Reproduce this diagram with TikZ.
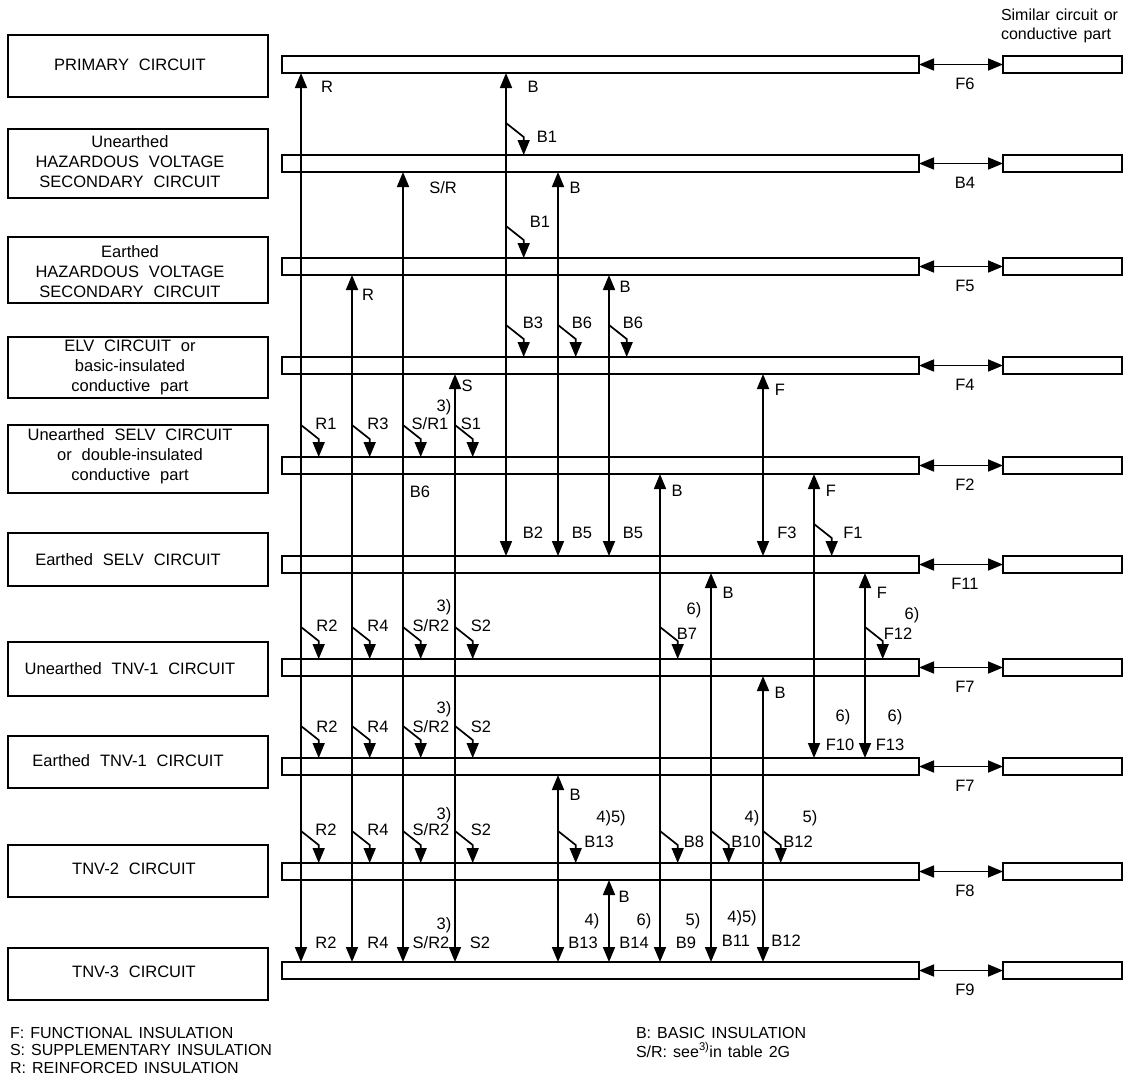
\documentclass[tikz,border=0pt]{standalone}
\usepackage{fontspec}
\newfontfamily\labfont{Liberation Sans}
\usetikzlibrary{arrows.meta,calc}
\newcommand\lblfnt{\labfont\fontsize{16.5}{20}\selectfont\spaceskip=0.6em\relax}
\newcommand\legfnt{\labfont\fontsize{16}{18}\selectfont\spaceskip=0.38em\relax}
\newcommand\brn[2]{\draw[tipend] ($(#1 |- #2.north)+(0,-32)$) -- ++(17.7,14) -- ++(0,18);}
\newcommand\lb[4]{\node[lbl] (#1) at (#2,#3) {#4};}
\begin{document}
\begin{tikzpicture}[x=1pt,y=-1pt,
  every node/.style={inner sep=0pt, outer sep=0pt},
  frame/.style={draw, line width=1.7pt},
  lbl/.style={font=\lblfnt},
  leg/.style={font=\legfnt, anchor=west},
  tipend/.style={line width=1.7pt, -{Triangle[length=15pt,width=12pt]}},
  tipboth/.style={line width=1.7pt, {Triangle[length=15pt,width=12pt]}-{Triangle[length=15pt,width=12pt]}},
]
\useasboundingbox (0,0) rectangle (1134,1082);

% left boxes
\foreach \i/\a/\b in {1/35/97,2/129/198,3/237/303,4/337/398,5/425/493,6/533/586,7/642/696,8/736/788,9/845/897,10/948/1000}
  \node[frame, anchor=north west, minimum width=260pt, minimum height={\b-\a}] (L\i) at (8,\a) {};
\node[lbl] (t1) at (130,65) {PRIMARY CIRCUIT};
\node[lbl, align=center] (t2) at (130,162) {Unearthed\\HAZARDOUS VOLTAGE\\SECONDARY CIRCUIT};
\node[lbl, align=center] (t3) at (130,272) {Earthed\\HAZARDOUS VOLTAGE\\SECONDARY CIRCUIT};
\node[lbl, align=center] (t4) at (130,367) {ELV CIRCUIT or\\basic-insulated\\conductive part};
\node[lbl, align=center] (t5) at (130,456) {Unearthed SELV CIRCUIT\\or double-insulated\\conductive part};
\node[lbl] (t6) at (128,560) {Earthed SELV CIRCUIT};
\node[lbl] (t7) at (130,669) {Unearthed TNV-1 CIRCUIT};
\node[lbl] (t8) at (128,761) {Earthed TNV-1 CIRCUIT};
\node[lbl] (t9) at (134,869) {TNV-2 CIRCUIT};
\node[lbl] (t10) at (134,972) {TNV-3 CIRCUIT};

% bars, right boxes, side arrows
\foreach \i/\t/\s in {1/56/F6,2/155/B4,3/258/F5,4/357/F4,5/457/F2,6/556/F11,7/659/F7,8/758/F7,9/863/F8,10/962/F9}{
  \node[frame, anchor=north west, minimum width=637pt, minimum height=17pt] (b\i) at (282,\t) {};
  \node[frame, anchor=north west, minimum width=119pt, minimum height=17pt] (r\i) at (1003,\t) {};
  \draw[tipboth] (b\i.east) -- (r\i.west);
  \node[lbl] (s\i) at (965,{\t+28}) {\s};
}
\node[leg] (sim1) at (1001,15) {Similar circuit or};
\node[leg] (sim2) at (1001,35) {conductive part};

% columns
\foreach \n/\x in {A/301,B/352,C/403,D/455,E/506,F/558,G/609,H/660,I/711,J/763,K/814,L/865}
  \coordinate (c\n) at (\x,0);

% main connectors
\draw[tipboth] (cA |- b1.south) -- (cA |- b10.north);
\draw[tipboth] (cB |- b3.south) -- (cB |- b10.north);
\draw[tipboth] (cC |- b2.south) -- (cC |- b10.north);
\draw[tipboth] (cD |- b4.south) -- (cD |- b10.north);
\draw[tipboth] (cE |- b1.south) -- (cE |- b6.north);
\draw[tipboth] (cF |- b2.south) -- (cF |- b6.north);
\draw[tipboth] (cG |- b3.south) -- (cG |- b6.north);
\draw[tipboth] (cH |- b5.south) -- (cH |- b10.north);
\draw[tipboth] (cI |- b6.south) -- (cI |- b10.north);
\draw[tipboth] (cJ |- b4.south) -- (cJ |- b6.north);
\draw[tipboth] (cJ |- b7.south) -- (cJ |- b10.north);
\draw[tipboth] (cK |- b5.south) -- (cK |- b8.north);
\draw[tipboth] (cL |- b6.south) -- (cL |- b8.north);
\draw[tipboth] (cF |- b8.south) -- (cF |- b10.north);
\draw[tipboth] (cG |- b9.south) -- (cG |- b10.north);

% branches
\brn{cE}{b2} \brn{cE}{b3} \brn{cE}{b4} \brn{cF}{b4} \brn{cG}{b4}
\brn{cA}{b5} \brn{cB}{b5} \brn{cC}{b5} \brn{cD}{b5}
\brn{cK}{b6}
\brn{cA}{b7} \brn{cB}{b7} \brn{cC}{b7} \brn{cD}{b7} \brn{cH}{b7} \brn{cL}{b7}
\brn{cA}{b8} \brn{cB}{b8} \brn{cC}{b8} \brn{cD}{b8}
\brn{cA}{b9} \brn{cB}{b9} \brn{cC}{b9} \brn{cD}{b9} \brn{cF}{b9} \brn{cH}{b9} \brn{cI}{b9} \brn{cJ}{b9}

% labels
\lb{n1}{327}{87}{R}
\lb{n2}{533}{87}{B}
\lb{n3}{547}{137}{B1}
\lb{n4}{443}{188}{S/R}
\lb{n5}{575}{188}{B}
\lb{n6}{540}{222}{B1}
\lb{n7}{368}{295}{R}
\lb{n8}{625}{287}{B}
\lb{n9}{533}{323}{B3}
\lb{n10}{582}{323}{B6}
\lb{n11}{633}{323}{B6}
\lb{n12}{467}{386}{S}
\lb{n13}{780}{390}{F}
\lb{n14}{326}{424}{R1}
\lb{n15}{378}{424}{R3}
\lb{n16}{430}{424}{S/R1}
\lb{n17}{444}{407}{3)}
\lb{n18}{471}{424}{S1}
\lb{n19}{420}{492}{B6}
\lb{n20}{677}{491}{B}
\lb{n21}{831}{491}{F}
\lb{n22}{533}{533}{B2}
\lb{n23}{582}{533}{B5}
\lb{n24}{633}{533}{B5}
\lb{n25}{787}{533}{F3}
\lb{n26}{853}{533}{F1}
\lb{n27}{728}{593}{B}
\lb{n28}{882}{593}{F}
\lb{n29}{327}{626}{R2}
\lb{n30}{378}{626}{R4}
\lb{n31}{431}{626}{S/R2}
\lb{n32}{444}{607}{3)}
\lb{n33}{481}{626}{S2}
\lb{n34}{694}{610}{6)}
\lb{n35}{687}{634}{B7}
\lb{n36}{912}{615}{6)}
\lb{n37}{898}{634}{F12}
\lb{n38}{780}{693}{B}
\lb{n39}{843}{717}{6)}
\lb{n40}{840}{745}{F10}
\lb{n41}{895}{717}{6)}
\lb{n42}{890}{745}{F13}
\lb{n43}{327}{727}{R2}
\lb{n44}{378}{727}{R4}
\lb{n45}{431}{727}{S/R2}
\lb{n46}{444}{709}{3)}
\lb{n47}{481}{727}{S2}
\lb{n48}{575}{795}{B}
\lb{n49}{611}{818}{4)5)}
\lb{n50}{599}{842}{B13}
\lb{n51}{694}{842}{B8}
\lb{n52}{752}{818}{4)}
\lb{n53}{746}{842}{B10}
\lb{n54}{810}{818}{5)}
\lb{n55}{798}{842}{B12}
\lb{n56}{326}{830}{R2}
\lb{n57}{378}{830}{R4}
\lb{n58}{431}{830}{S/R2}
\lb{n59}{444}{815}{3)}
\lb{n60}{481}{830}{S2}
\lb{n61}{624}{897}{B}
\lb{n62}{444}{925}{3)}
\lb{n63}{326}{943}{R2}
\lb{n64}{378}{943}{R4}
\lb{n65}{431}{943}{S/R2}
\lb{n66}{480}{943}{S2}
\lb{n67}{583}{943}{B13}
\lb{n68}{592}{921}{4)}
\lb{n69}{634}{943}{B14}
\lb{n70}{644}{921}{6)}
\lb{n71}{686}{943}{B9}
\lb{n72}{693}{921}{5)}
\lb{n73}{736}{941}{B11}
\lb{n74}{742}{918}{4)5)}
\lb{n75}{786}{941}{B12}

% legend
\node[leg] (g1) at (10,1033) {F: FUNCTIONAL INSULATION};
\node[leg] (g2) at (10,1050) {S: SUPPLEMENTARY INSULATION};
\node[leg] (g3) at (10,1068) {R: REINFORCED INSULATION};
\node[leg] (g4) at (636,1033) {B: BASIC INSULATION};
\node[leg] (g5) at (636,1050) {S/R: see\textsuperscript{3)}in table 2G};
\end{tikzpicture}
\end{document}
